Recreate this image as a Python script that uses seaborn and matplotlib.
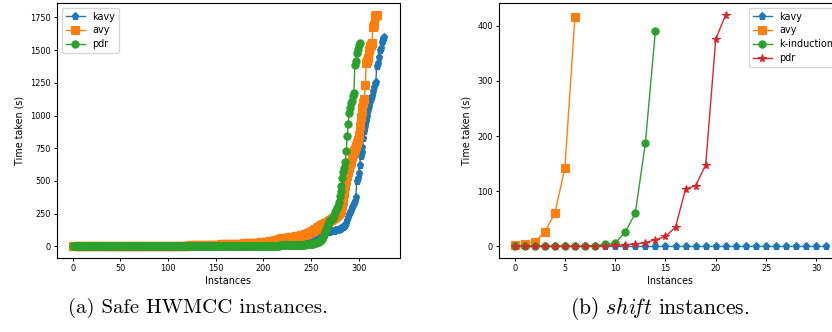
import numpy as np
import pandas as pd
import matplotlib
matplotlib.use("Agg")
import matplotlib.pyplot as plt
import seaborn as sns

# ---------------------------
# Data (sorted solve times, cactus style)
# ---------------------------

# (a) Safe HWMCC instances
hw_kavy = [
    0, 0, 0, 0, 0, 0, 0, 0, 0, 0, 0, 0, 0, 0, 0, 0, 0, 0, 0, 0,
    0, 0, 0, 0, 0, 0, 0, 0, 0, 0, 0, 0, 0, 0, 0, 0, 0, 0, 0, 0,
    0, 0, 0, 0, 0, 0, 0, 0, 0, 0, 0, 0, 0, 0, 0, 0, 0, 0, 0, 0,
    1, 1, 1, 1, 1, 1, 1, 1, 1, 1, 1, 1, 1, 1, 1, 1, 1, 1, 1, 1,
    1, 1, 1, 1, 1, 1, 1, 1, 1, 1, 1, 1, 1, 1, 1, 1, 1, 1, 1, 1,
    1, 1, 1, 1, 1, 1, 1, 1, 1, 1,
    2, 2, 2, 2, 2, 2, 2, 2, 2, 2, 2, 2, 2, 2, 2, 2, 2, 2, 2, 2,
    2, 2, 2, 2, 2, 2, 2, 2, 2, 2, 2, 2, 2, 2, 2,
    3, 3, 3, 3, 3, 3, 3, 3, 3, 3, 3, 3, 3, 3, 3, 3, 3, 3, 3, 3,
    3, 3, 3, 3, 3,
    4, 4, 4, 4, 4, 4, 4, 4, 4, 4, 4, 4, 4, 4, 4,
    5, 5, 6, 6, 6, 7, 7, 7, 8, 8, 8, 9, 9, 10, 10,
    10, 11, 11, 12, 12, 13, 13, 14, 14, 15, 15, 16, 16, 17, 17, 18, 18, 19, 19, 20,
    20, 21, 21, 22, 22, 23, 23, 24, 24, 25, 25, 26, 27, 27, 28, 29, 29, 30, 31, 32,
    33, 34, 35, 36, 37, 38, 40, 41, 42, 44, 45, 47, 49, 51, 54,
    58, 63, 69, 76, 84, 92, 98, 102, 105, 107,
    108, 110, 111, 112, 113, 115, 116, 118, 119, 121, 123, 125, 127, 129, 131, 134,
    137, 141, 145, 150, 156,
    165, 180, 200, 225, 250, 262, 275, 300, 315, 330, 345, 380,
    500, 520, 560, 620, 690, 720, 760, 830, 880, 920, 960, 1000, 1040, 1070, 1110,
    1130, 1150, 1190, 1220, 1250, 1260, 1380, 1400, 1450, 1500, 1520, 1560, 1580,
    1590, 1604,
]

hw_avy = [
    0, 0, 0, 0, 0, 0, 0, 0, 0, 0, 0, 0, 0, 0, 0, 0, 0, 0, 0, 0,
    0, 0, 0, 0, 0, 0, 0, 0, 0, 0,
    1, 1, 1, 1, 1, 1, 1, 1, 1, 1, 1, 1, 1, 1, 1, 1, 1, 1, 1, 1,
    1, 1, 1, 1, 1, 1, 1, 1, 1, 1, 1, 1, 1, 1, 1, 1, 1, 1, 1, 1,
    2, 2, 2, 2, 2, 2, 2, 2, 2, 2, 2, 2, 2, 2, 2, 2, 2, 2, 2, 2,
    2, 2, 2, 2, 2, 2, 2, 2, 2, 2,
    4, 4, 4, 4, 4, 4, 4, 4, 5, 5, 5, 5, 5, 5, 5, 5, 6, 6, 6, 6,
    6, 6, 6, 7, 7, 7, 7, 7, 7, 7, 8, 8, 8, 8, 8, 8, 9, 9, 9, 9,
    9, 10, 10, 10, 10, 11, 11, 11, 12, 12,
    13, 13, 13, 14, 14, 14, 15, 15, 15, 16, 16, 16, 17, 17, 17, 18, 18, 18, 19, 19,
    19, 20, 20, 20, 21, 21, 21, 22, 22, 22, 23, 23, 23, 24, 24, 24, 25, 25, 25, 26,
    26, 26, 27, 27, 28, 28, 29, 29, 30, 30,
    31, 32, 33, 34, 35, 36, 37, 38, 39, 40, 42, 44, 46, 48, 50, 52, 54, 56, 58, 60,
    62, 63, 64, 65, 66, 67, 68, 69, 70, 71, 72, 73, 74, 75, 76, 77, 78, 79, 80, 82,
    84, 86, 88, 90, 92, 94, 97, 100, 104, 108, 112, 116, 120, 125, 130, 135, 140, 145,
    150, 155,
    160, 163, 166, 170, 174, 178, 182, 186, 190, 195, 200, 205, 210, 215, 220, 226,
    232, 240, 248, 256, 265, 275, 290, 310,
    344, 408, 458, 500, 540, 565, 600, 630, 642, 680, 710, 730, 741, 770, 790, 817,
    850, 920, 993, 1030, 1060, 1100, 1123, 1237, 1405, 1420, 1444, 1500, 1530, 1543,
    1552, 1680, 1690, 1765, 1772, 1772,
]

hw_pdr = [
    0, 0, 0, 0, 0, 0, 0, 0, 0, 0, 0, 0, 0, 0, 0, 0, 0, 0, 0, 0,
    0, 0, 0, 0, 0, 0, 0, 0, 0, 0, 0, 0, 0, 0, 0, 0, 0, 0, 0, 0,
    0, 0, 0, 0, 0, 0, 0, 0, 0, 0,
    1, 1, 1, 1, 1, 1, 1, 1, 1, 1, 1, 1, 1, 1, 1, 1, 1, 1, 1, 1,
    1, 1, 1, 1, 1, 1, 1, 1, 1, 1, 1, 1, 1, 1, 1, 1, 1, 1, 1, 1,
    1, 1, 1, 1, 1, 1, 1, 1, 1, 1,
    2, 2, 2, 2, 2, 2, 2, 2, 2, 2, 2, 2, 2, 2, 2, 2, 2, 2, 2, 2,
    2, 2, 2, 2, 2, 2, 2, 2, 2, 2, 2, 2, 2, 2, 2, 2, 2, 2, 2, 2,
    2, 2, 2, 2, 2, 2, 2, 2, 2, 2,
    3, 3, 3, 3, 3, 3, 3, 3, 3, 3, 3, 3, 3, 3, 3, 3, 3, 3, 3, 3,
    4, 4, 4, 4, 4, 4, 4, 4, 4, 4, 4, 4, 4, 4, 4, 4, 4, 4, 4, 4,
    5, 5, 5, 5, 5, 5, 5, 5, 5, 5, 5, 5, 5, 5, 5,
    6, 6, 6, 6, 6, 6, 6, 6, 6, 6, 6, 6,
    7, 7, 7, 7, 7, 7, 7, 7, 7, 7,
    8, 8, 8, 8, 8, 8, 8,
    9, 9, 9, 9, 9, 9,
    10, 11, 12, 13, 14, 15, 16, 17, 18, 19, 20, 21, 22, 24, 26, 28, 30, 33, 37, 42,
    48, 52, 58, 70, 90, 110, 130, 150, 170, 190, 200, 205, 210, 220, 240, 260, 275,
    290, 306, 340, 382, 420, 458, 520, 565, 600, 642, 726, 841, 932, 1023, 1060,
    1100, 1110, 1150, 1176, 1390, 1420, 1482, 1510, 1540, 1558,
]

# (b) shift instances
sh_kavy = [0.3, 0.3, 0.3, 0.3, 0.3, 0.3, 0.3, 0.3, 0.3, 0.3, 0.3, 0.3, 0.3, 0.3, 0.3, 0.3,
           0.3, 0.3, 0.3, 0.3, 0.3, 0.3, 0.3, 0.3, 0.3, 0.3, 0.3, 0.3, 0.3, 0.3, 0.3, 0.3]
sh_avy = [2, 5, 8, 26, 60, 142, 416]
sh_kind = [0, 0, 0, 0, 0, 0, 0, 0, 1, 4, 6, 26, 60, 187, 391]
sh_pdr = [0, 0, 0, 0, 0, 0, 0, 0, 1, 1, 2, 3, 4, 7, 12, 18, 35, 104, 110, 148, 376, 420]

pal = sns.color_palette("tab10")

TICK_FS = 5.9
LABEL_FS = 6.9
LEGEND_FS = 6.9
MS = 5.2
LW = 1.0


def draw(ax, series):
    for name, vals, marker, color in series:
        df = pd.DataFrame({"x": np.arange(len(vals)), "y": vals})
        ms = MS * 1.1 if marker == "*" else MS
        sns.lineplot(data=df, x="x", y="y", ax=ax, marker=marker, color=color,
                     label=name, markersize=ms, linewidth=LW,
                     markeredgecolor=color, markeredgewidth=0.8, estimator=None)
    ax.set_xlabel("Instances", fontsize=LABEL_FS, labelpad=2)
    ax.set_ylabel("Time taken (s)", fontsize=LABEL_FS, labelpad=4)
    ax.tick_params(labelsize=TICK_FS, length=2.5, width=0.7, pad=2)
    for s in ax.spines.values():
        s.set_linewidth(0.8)


fig = plt.figure(figsize=(8.32, 3.32), dpi=100)
ax1 = fig.add_axes([57 / 832, 1 - 258 / 332, 343 / 832, 255 / 332])
ax2 = fig.add_axes([499 / 832, 1 - 258 / 332, 343 / 832, 255 / 332])

draw(ax1, [("kavy", hw_kavy, "p", pal[0]),
           ("avy", hw_avy, "s", pal[1]),
           ("pdr", hw_pdr, "o", pal[2])])
ax1.set_yticks([0, 250, 500, 750, 1000, 1250, 1500, 1750])
ax1.legend(loc="upper left", fontsize=LEGEND_FS, handlelength=2.0,
           borderpad=0.4, labelspacing=0.4, frameon=True)

draw(ax2, [("kavy", sh_kavy, "p", pal[0]),
           ("avy", sh_avy, "s", pal[1]),
           ("k-induction", sh_kind, "o", pal[2]),
           ("pdr", sh_pdr, "*", pal[3])])
ax2.set_xticks([0, 5, 10, 15, 20, 25, 30])
ax2.set_yticks([0, 100, 200, 300, 400])
ax2.legend(loc="upper right", fontsize=LEGEND_FS, handlelength=2.0,
           borderpad=0.4, labelspacing=0.4, frameon=True)

plt.rcParams["mathtext.fontset"] = "cm"
fig.text(198 / 832, 1 - 308 / 332, "(a) Safe HWMCC instances.", family="cmr10",
         fontsize=15, ha="center", va="center")
fig.text(660 / 832, 1 - 308 / 332, r"(b) $\mathit{shi\!ft}$ instances.", family="cmr10",
         fontsize=15.5, ha="center", va="center")

fig.savefig("out.png", dpi=100)
